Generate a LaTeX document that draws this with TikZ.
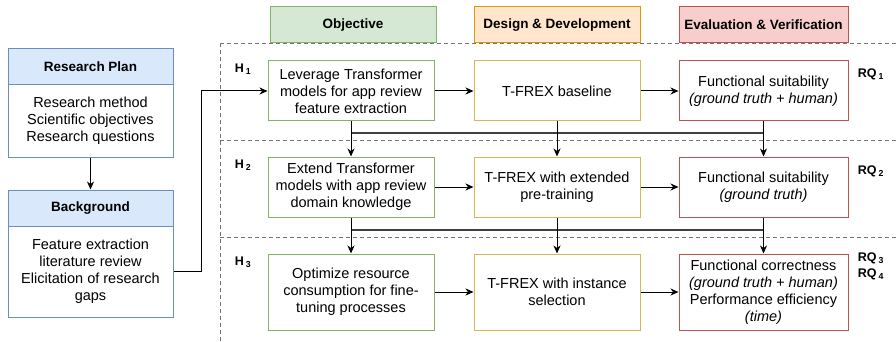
\documentclass[tikz,border=0pt]{standalone}
\usepackage{fontspec}
\setmainfont{Liberation Sans}
\usetikzlibrary{arrows.meta,calc}
\definecolor{objfill}{HTML}{D5E8D4}
\definecolor{objline}{HTML}{82B366}
\definecolor{devfill}{HTML}{FFE6CC}
\definecolor{devline}{HTML}{D79B00}
\definecolor{devbox}{HTML}{D6B656}
\definecolor{evfill}{HTML}{F8CECC}
\definecolor{evline}{HTML}{B85450}
\definecolor{planfill}{HTML}{DAE8FC}
\definecolor{planline}{HTML}{6C8EBF}
\newcommand{\bodyfont}{\fontsize{14.5}{17}\selectfont}
\newcommand{\headfont}{\fontsize{13.5}{16}\selectfont\bfseries}
\newcommand{\lbl}[2]{\textbf{#1}\,\textsubscript{\textbf{#2}}}
\tikzset{
  head/.style={draw,line width=1pt,minimum height=36pt,inner sep=0pt,font=\headfont},
  cell/.style={draw,line width=1pt,fill=white,inner sep=2pt,align=center,font=\bodyfont},
  arr/.style={-{Stealth[length=8pt,width=7pt,inset=2.5pt]},line width=1pt,black},
  bus/.style={line width=1.3pt,black!75},
  zone/.style={black!55,line width=0.8pt,dash pattern=on 4pt off 3pt},
  hq/.style={inner sep=0pt,font=\fontsize{12.5}{14}\selectfont},
}

\begin{document}
\begin{tikzpicture}[x=1pt,y=-1pt]
\useasboundingbox (0,0) rectangle (896,342);
\draw[zone] (220,43) -- (896,43);
\draw[zone] (220,140) -- (896,140);
\draw[zone] (220,237) -- (896,237);
\draw[zone] (220,43) -- (220,342);

\node[head,fill=planfill,draw=planline,minimum width=165pt] (planhead) at (90.5,67) {Research Plan};
\node[cell,draw=planline,minimum width=165pt,minimum height=72pt] (planbody) at (90.5,121)
  {Research method\\Scientific objectives\\Research questions};
\node[head,fill=planfill,draw=planline,minimum width=165pt] (bghead) at (90.5,208) {Background};
\node[cell,draw=planline,minimum width=165pt,minimum height=91pt] (bgbody) at (90.5,271.5)
  {Feature extraction\\literature review\\Elicitation of research\\gaps};

\node[head,fill=objfill,draw=objline,minimum width=166pt] (objhead) at (353,25) {Objective};
\node[head,fill=devfill,draw=devline,minimum width=166pt] (devhead) at (557,25) {Design \& Development};
\node[head,fill=evfill,draw=evline,minimum width=169pt] (evhead) at (763.5,25) {Evaluation \& Verification};

\node[cell,draw=objline,minimum width=166pt,minimum height=60pt] (obj1) at (351,91)
  {Leverage Transformer\\models for app review\\feature extraction};
\node[cell,draw=devbox,minimum width=166pt,minimum height=60pt] (dev1) at (557,91) {T-FREX baseline};
\node[cell,draw=evline,minimum width=169pt,minimum height=60pt] (ev1) at (763.5,91)
  {Functional suitability\\\textit{(ground truth + human)}};

\node[cell,draw=objline,minimum width=166pt,minimum height=60pt] (obj2) at (351,187)
  {Extend Transformer\\models with app review\\domain knowledge};
\node[cell,draw=devbox,minimum width=166pt,minimum height=60pt] (dev2) at (557,187)
  {T-FREX with extended\\pre-training};
\node[cell,draw=evline,minimum width=169pt,minimum height=60pt] (ev2) at (763.5,187)
  {Functional suitability\\\textit{(ground truth)}};

\node[cell,draw=objline,minimum width=166pt,minimum height=76pt] (obj3) at (351,292)
  {Optimize resource\\consumption for fine-\\tuning processes};
\node[cell,draw=devbox,minimum width=166pt,minimum height=76pt] (dev3) at (557,292)
  {T-FREX with instance\\selection};
\node[cell,draw=evline,minimum width=169pt,minimum height=76pt] (ev3) at (763.5,292)
  {Functional correctness\\\textit{(ground truth + human)}\\Performance efficiency\\\textit{(time)}};

\node[hq] (h1) at (243,69) {\lbl{H}{1}};
\node[hq] (h2) at (243,165) {\lbl{H}{2}};
\node[hq] (h3) at (243,262) {\lbl{H}{3}};
\node[hq] (rq1) at (871,74) {\lbl{RQ}{1}};
\node[hq] (rq2) at (871,171) {\lbl{RQ}{2}};
\node[hq] (rq3) at (871,258) {\lbl{RQ}{3}};
\node[hq] (rq4) at (871,274) {\lbl{RQ}{4}};

\coordinate (bus1) at (0,133);
\coordinate (bus2) at (0,230);

\draw[arr] (planbody.south) -- (bghead.north);
\draw[arr] (bgbody.east) -- ++(28,0) |- (obj1.west);

\draw[arr] (obj1) -- (dev1);
\draw[arr] (dev1) -- (ev1);
\draw[arr] (obj2) -- (dev2);
\draw[arr] (dev2) -- (ev2);
\draw[arr] (obj3) -- (dev3);
\draw[arr] (dev3) -- (ev3);

\draw[bus] (obj1.south |- bus1) -- (ev1.south |- bus1);
\draw[arr] (obj1.south) -- (obj2.north);
\draw[arr] (dev1.south) -- (dev2.north);
\draw[arr] (ev1.south) -- (ev2.north);
\draw[bus] (obj2.south |- bus2) -- (ev2.south |- bus2);
\draw[arr] (obj2.south) -- (obj3.north);
\draw[arr] (dev2.south) -- (dev3.north);
\draw[arr] (ev2.south) -- (ev3.north);
\end{tikzpicture}
\end{document}
